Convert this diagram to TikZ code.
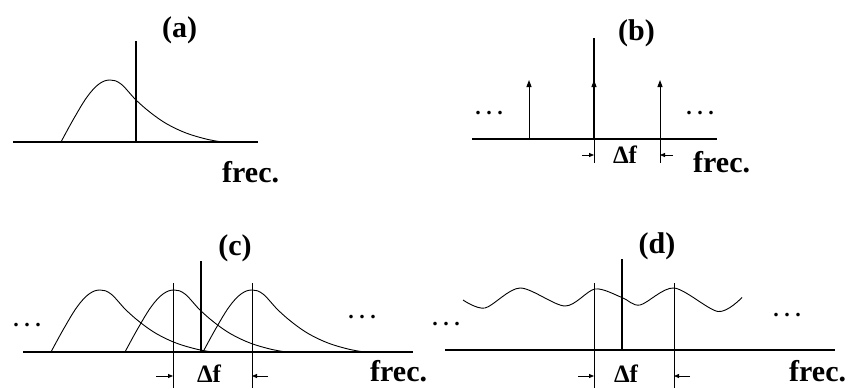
\documentclass[tikz,border=0pt]{standalone}
\usepackage{fontspec}
\setmainfont{Liberation Serif}
\usetikzlibrary{arrows.meta}
\tikzset{
  axisline/.style={line width=2.4pt},
  bigline/.style={line width=2.8pt},
  thinline/.style={line width=1pt},
  curveline/.style={line width=0.9pt},
  lbl/.style={font=\fontsize{30}{34}\selectfont\bfseries, inner sep=0pt},
  dflbl/.style={font=\fontsize{25}{30}\selectfont\bfseries, inner sep=0pt, anchor=base},
  dotlbl/.style={font=\fontsize{22}{26}\selectfont\bfseries\frenchspacing, inner sep=0pt, anchor=base},
  spike/.style={line width=1pt, -{Triangle[length=7pt,width=5pt]}},
  dfarrow/.style={line width=0.8pt, -{Triangle[length=5pt,width=4pt]}},
  pics/bump/.style={code={
    \draw[curveline] plot[smooth, tension=0.6] coordinates
      {(0,0) (12,-22) (26,-45) (38,-58) (49,-62) (60,-58) (75,-42) (90,-29)
       (106,-18) (125,-9) (145,-3) (161,0)};}}
}
\begin{document}
\begin{tikzpicture}[x=1pt,y=-1pt]
\useasboundingbox (0,0) rectangle (853,388);
\fill[white] (0,0) rectangle (853,388);

% ---------- (a)
\node[lbl, anchor=base] (la) at (179.5,37) {(a)};
\coordinate (a0) at (13,142); \coordinate (a1) at (258,142);
\draw[axisline] (a0) -- (a1);
\pic at (61,142) {bump};
\coordinate (av0) at (136,142); \coordinate (av1) at (136,41);
\draw[bigline] (av0) -- (av1);
\node[lbl, anchor=base west] (fa) at (222,182) {frec.};

% ---------- (b)
\node[lbl, anchor=base] (lb) at (636.5,40) {(b)};
\coordinate (b0) at (472,139); \coordinate (b1) at (717,139);
\draw[axisline] (b0) -- (b1);
\coordinate (bc0) at (594,139); \coordinate (bc1) at (594,38);
\draw[bigline] (bc0) -- (bc1);
\coordinate (bl0) at (529,139); \coordinate (bl1) at (529,80);
\draw[spike] (bl0) -- (bl1);
\coordinate (bm0) at (594,139); \coordinate (bm1) at (594,80);
\draw[spike] (bm0) -- (bm1);
\coordinate (br0) at (660,139); \coordinate (br1) at (660,80);
\draw[spike] (br0) -- (br1);
\node[dotlbl] (bdl) at (489,114) {. . .};
\node[dotlbl] (bdr) at (700,114) {. . .};
\coordinate (bt1) at (594,163); \coordinate (bt2) at (660,163);
\draw[thinline] (bc0) -- (bt1);
\draw[thinline] (br0) -- (bt2);
\coordinate (bal) at (582,155); \coordinate (bar) at (673,155);
\coordinate (bae) at (594,155); \coordinate (bbe) at (660,155);
\draw[dfarrow] (bal) -- (bae);
\draw[dfarrow] (bar) -- (bbe);
\node[dflbl] (dfb) at (625,163) {Δf};
\node[lbl, anchor=base west] (fb) at (693,172) {frec.};

% ---------- (c)
\node[lbl, anchor=base] (lc) at (235,255) {(c)};
\coordinate (c0) at (23,352); \coordinate (c1) at (413,352);
\draw[axisline] (c0) -- (c1);
\pic at (51,352) {bump};
\pic at (125,352) {bump};
\pic at (203,352) {bump};
\coordinate (cv0) at (201,352); \coordinate (cv1) at (201,261);
\draw[bigline] (cv0) -- (cv1);
\coordinate (ct1a) at (173,283); \coordinate (ct1b) at (173,388);
\coordinate (ct2a) at (252,283); \coordinate (ct2b) at (252,388);
\draw[thinline] (ct1a) -- (ct1b);
\draw[thinline] (ct2a) -- (ct2b);
\node[dotlbl] (cdl) at (27,326) {. . .};
\node[dotlbl] (cdr) at (362,318) {. . .};
\coordinate (cal) at (156,376); \coordinate (car) at (268,376);
\coordinate (cae) at (173,376); \coordinate (cbe) at (252,376);
\draw[dfarrow] (cal) -- (cae);
\draw[dfarrow] (car) -- (cbe);
\node[dflbl] (dfc) at (209,382) {Δf};
\node[lbl, anchor=base west] (fc) at (370,381.5) {frec.};

% ---------- (d)
\node[lbl, anchor=base] (ld) at (657,253) {(d)};
\coordinate (d0) at (445,350); \coordinate (d1) at (835,350);
\draw[axisline] (d0) -- (d1);
\draw[curveline] plot[smooth, tension=0.5] coordinates
  {(463,300) (485,308) (520,288) (565,306) (595,289) (622,297.5) (640,305)
   (674,288) (718,311.5) (742,297.5)};
\coordinate (dv0) at (622,350); \coordinate (dv1) at (622,259);
\draw[bigline] (dv0) -- (dv1);
\coordinate (dt1a) at (594,283); \coordinate (dt1b) at (594,388);
\coordinate (dt2a) at (674,283); \coordinate (dt2b) at (674,388);
\draw[thinline] (dt1a) -- (dt1b);
\draw[thinline] (dt2a) -- (dt2b);
\node[dotlbl] (ddl) at (446,325) {. . .};
\node[dotlbl] (ddr) at (787,316) {. . .};
\coordinate (dal) at (578,376); \coordinate (dar) at (690,376);
\coordinate (dae) at (594,376); \coordinate (dbe) at (674,376);
\draw[dfarrow] (dal) -- (dae);
\draw[dfarrow] (dar) -- (dbe);
\node[dflbl] (dfd) at (626,382) {Δf};
\node[lbl, anchor=base west] (fd) at (789,381.5) {frec.};
\end{tikzpicture}
\end{document}
